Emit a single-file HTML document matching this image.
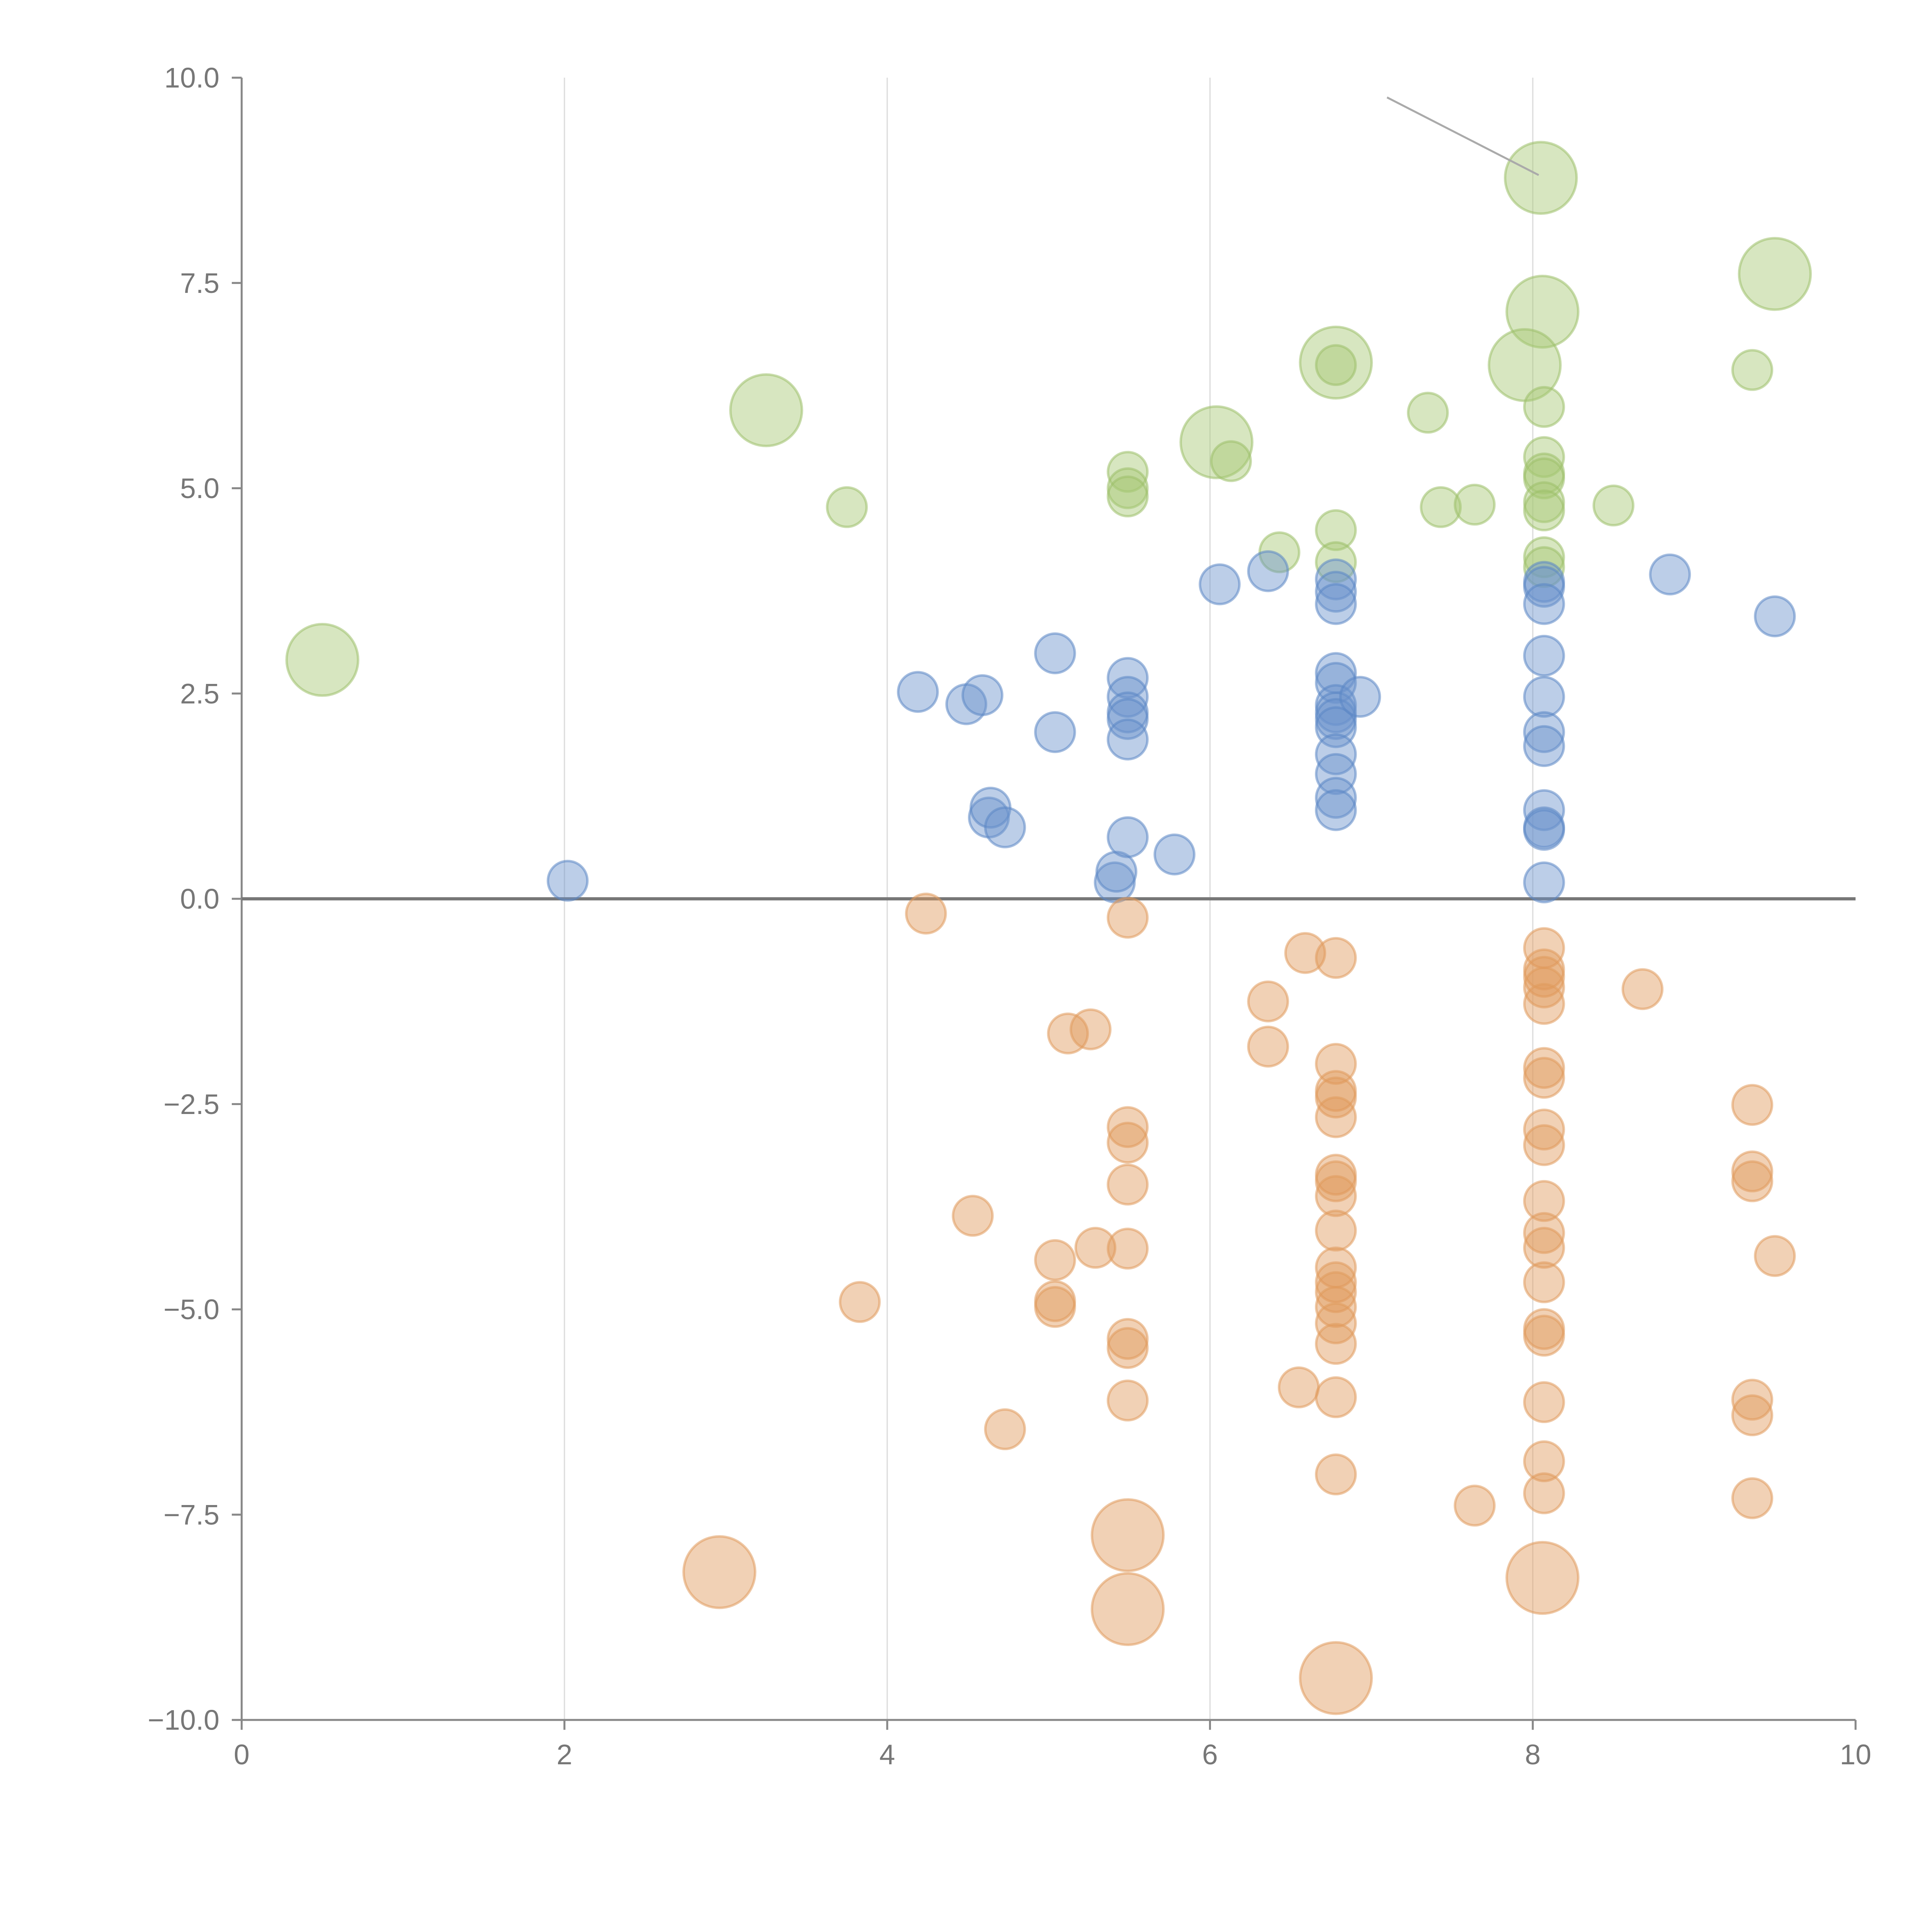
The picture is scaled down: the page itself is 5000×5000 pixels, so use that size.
<!DOCTYPE html>
<html><head><meta charset="utf-8"><style>html,body{margin:0;padding:0;background:#fff}svg{display:block}</style></head>
<body>
<svg id="chart" width="5000" height="5000" viewBox="0 0 1567 1567" xmlns="http://www.w3.org/2000/svg" font-family="Liberation Sans, sans-serif">
<g id="grid"></g>
<g id="axes"></g>
<g id="marks"></g>
</svg>
<script>
const xTicks=[0,2,4,6,8,10];
const yTicks=[10,7.5,5,2.5,0,-2.5,-5,-7.5,-10];
const yTickLabels=["10.0","7.5","5.0","2.5","0.0","\u22122.5","\u22125.0","\u22127.5","\u221210.0"];
const greenX=[0.50,3.25,3.75,5.49,5.49,5.49,6.04,6.13,6.43,6.78,6.78,6.78,6.78,7.35,7.43,7.64,8.05,8.06,7.95,8.07,8.07,8.07,8.07,8.07,8.07,8.07,8.07,8.50,9.36,9.50];
const greenY=[2.91,5.95,4.77,5.2,5.0,4.9,5.56,5.33,4.22,6.53,6.5,4.49,4.1,5.92,4.77,4.8,8.78,7.15,6.5,5.99,5.38,5.18,5.12,4.83,4.73,4.16,4.04,4.79,6.44,7.61];
const greenBig=[1,1,0,0,0,0,1,0,0,1,0,0,0,0,0,0,1,1,1,0,0,0,0,0,0,0,0,0,0,1];
const blueX=[2.02,4.19,4.49,4.59,4.63,4.64,4.73,5.04,5.04,5.41,5.42,5.49,5.49,5.49,5.49,5.49,5.49,5.78,6.06,6.36,6.78,6.78,6.78,6.78,6.78,6.78,6.78,6.78,6.78,6.78,6.78,6.78,6.78,6.93,8.07,8.07,8.07,8.07,8.07,8.07,8.07,8.07,8.07,8.07,8.07,8.85,9.50];
const blueY=[0.22,2.52,2.37,2.48,0.99,1.11,0.87,2.99,2.03,0.2,0.33,2.69,2.46,2.27,2.19,1.94,0.75,0.54,3.83,3.99,3.89,3.74,3.59,2.75,2.63,2.36,2.27,2.19,2.09,1.76,1.52,1.23,1.08,2.46,3.86,3.8,3.59,2.96,2.46,2.03,1.86,1.08,0.87,0.84,0.2,3.95,3.44];
const orangeX=[2.96,3.83,4.24,4.53,4.73,5.04,5.04,5.04,5.12,5.26,5.29,5.49,5.49,5.49,5.49,5.49,5.49,5.49,5.49,5.49,5.49,6.36,6.36,6.55,6.59,6.78,6.78,6.78,6.78,6.78,6.78,6.78,6.78,6.78,6.78,6.78,6.78,6.78,6.78,6.78,6.78,6.78,6.78,7.64,8.07,8.07,8.07,8.07,8.07,8.07,8.07,8.07,8.07,8.07,8.07,8.07,8.07,8.07,8.07,8.07,8.07,8.07,8.06,8.68,9.36,9.36,9.36,9.36,9.36,9.36,9.50];
const orangeY=[-8.2,-4.91,-0.18,-3.86,-6.46,-4.4,-4.9,-4.97,-1.64,-1.59,-4.25,-0.23,-2.78,-2.97,-3.48,-4.26,-5.36,-5.47,-6.11,-7.75,-8.65,-1.25,-1.80,-5.95,-0.66,-0.72,-2.01,-2.34,-2.42,-2.66,-3.36,-3.44,-3.62,-4.04,-4.49,-4.67,-4.79,-4.97,-5.17,-5.42,-6.07,-7.01,-9.49,-7.39,-0.6,-0.86,-0.95,-1.08,-1.28,-2.06,-2.18,-2.81,-3.0,-3.68,-4.07,-4.25,-4.67,-5.24,-5.32,-6.13,-6.85,-7.24,-8.27,-1.10,-2.51,-3.32,-3.44,-6.1,-6.29,-7.3,-4.35];
const orangeBig=[1,0,0,0,0,0,0,0,0,0,0,0,0,0,0,0,0,0,0,1,1,0,0,0,0,0,0,0,0,0,0,0,0,0,0,0,0,0,0,0,0,0,1,0,0,0,0,0,0,0,0,0,0,0,0,0,0,0,0,0,0,0,1,0,0,0,0,0,0,0,0];

const NS="http://www.w3.org/2000/svg";
const X0=196,X1=1505,Y0=1395,Y1=63;
function sx(v){return X0+(v-0)/(10-0)*(X1-X0);}
function sy(v){return Y0-(v+10)/20*(Y0-Y1);}
function mk(tag,attrs,parent){const e=document.createElementNS(NS,tag);for(const k in attrs)e.setAttribute(k,attrs[k]);parent.appendChild(e);return e;}
const grid=document.getElementById('grid'),axes=document.getElementById('axes'),marks=document.getElementById('marks');
xTicks.forEach(t=>{if(t>0&&t<10){const l=mk('line',{x1:sx(t),x2:sx(t),y1:Y1,y2:Y0,stroke:'#dcdcdc','stroke-width':1},grid);

}});
let a=mk('line',{x1:X0,x2:X0,y1:Y1,y2:Y0,stroke:'#888','stroke-width':1.6},axes);


a=mk('line',{x1:X0,x2:X1,y1:Y0,y2:Y0,stroke:'#888','stroke-width':1.6},axes);


a=mk('line',{x1:X0,x2:X1,y1:sy(0),y2:sy(0),stroke:'#777','stroke-width':2.6},axes);


yTicks.forEach((t,i)=>{mk('line',{x1:X0-8,x2:X0,y1:sy(t),y2:sy(t),stroke:'#888','stroke-width':1.6},axes);
const tx=mk('text',{x:X0-18,y:sy(t)+8,'text-anchor':'end','font-size':23,fill:'#777'},axes);tx.textContent=yTickLabels[i];

});
xTicks.forEach(t=>{mk('line',{x1:sx(t),x2:sx(t),y1:Y0,y2:Y0+8,stroke:'#888','stroke-width':1.6},axes);
const tx=mk('text',{x:sx(t),y:Y0+36,'text-anchor':'middle','font-size':23,fill:'#777'},axes);tx.textContent=String(t);

});
function series(xs,ys,big,fill,stroke,name){xs.forEach((x,i)=>{const r=(big&&big[i])?29:16;
const c=mk('circle',{cx:sx(x),cy:sy(ys[i]),r:r,fill:fill,'fill-opacity':0.45,stroke:stroke,'stroke-opacity':0.55,'stroke-width':2},marks);

});}
series(greenX,greenY,greenBig,'#a6c874','#9cc06a','green-bubble');
series(blueX,blueY,null,'#6a93cc','#5b87c4','blue-bubble');
series(orangeX,orangeY,orangeBig,'#e09a5c','#e09a5c','orange-bubble');
const ann=mk('line',{x1:1125,y1:79,x2:1248,y2:142,stroke:'#aaa','stroke-width':1.6},marks);


</script>
</body></html>
